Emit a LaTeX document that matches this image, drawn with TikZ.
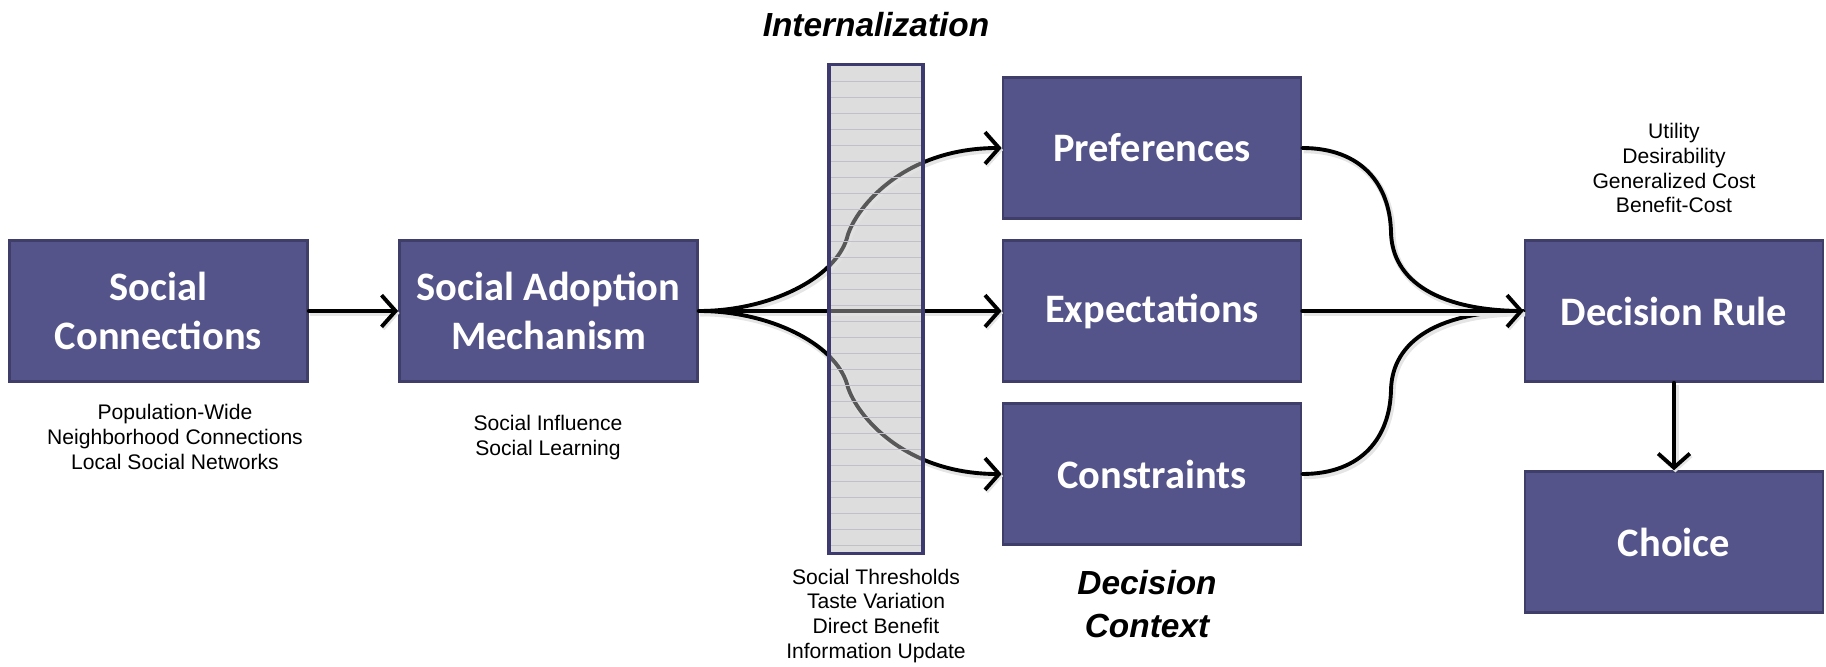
\documentclass[tikz,border=0pt]{standalone}
\usepackage{fontspec}
\setmainfont{Liberation Sans}
\newfontfamily\boxfont{Carlito}
\usetikzlibrary{arrows.meta}
\definecolor{boxfill}{RGB}{84,84,138}
\definecolor{boxedge}{RGB}{62,62,104}
\definecolor{barfill}{RGB}{221,221,221}
\definecolor{baredge}{RGB}{60,58,110}
\definecolor{barline}{RGB}{192,192,198}
\begin{document}
\begin{tikzpicture}[x=0.01cm,y=-0.01cm,
  blk/.style={draw=boxedge, line width=0.7pt, fill=boxfill, text=white,
    font=\boxfont\bfseries\fontsize{11.5}{14}\selectfont, align=center, inner sep=0pt,
    minimum width=2.98cm, minimum height=1.41cm},
  note/.style={font=\fontsize{6}{7.1}\selectfont, align=center, inner sep=0pt},
  head/.style={font=\bfseries\itshape\fontsize{9.5}{12.2}\selectfont, align=center, inner sep=0pt},
  conn/.style={line width=1.1pt, line cap=round,
    preaction={draw=black!10, line width=1.8pt, transform canvas={shift={(0.4pt,-0.6pt)}}}},
  tip/.style={-{Straight Barb[length=4pt,width=9pt,line width=1.1pt]}},
  ]
\useasboundingbox (0,0) rectangle (1826,667);

% boxes
\node[blk] (sc)   at (158.5,311) {Social\\Connections};
\node[blk] (sam)  at (548.5,311) {Social Adoption\\Mechanism};
\node[blk] (pref) at (1152,148) {Preferences};
\node[blk] (exp)  at (1152,311) {Expectations};
\node[blk] (cons) at (1152,474) {Constraints};
\node[blk] (dr)   at (1674,311) {Decision Rule};
\node[blk] (ch)   at (1674,542) {Choice};

% bar base
\fill[barfill] (829,65) rectangle (923,553);

% connectors
\draw[conn,tip] (sc.east) -- (sam.west);
\coordinate (lt) at (847,238);
\coordinate (lb) at (847,384);
\draw[conn,tip] (sam.east) .. controls (770,311) and (835,278) .. (lt)
   .. controls (853,212) and (900,148) .. (pref.west);
\draw[conn,tip] (sam.east) -- (exp.west);
\draw[conn,tip] (sam.east) .. controls (770,311) and (835,344) .. (lb)
   .. controls (853,410) and (900,474) .. (cons.west);

\coordinate (rt) at (1391,232);
\coordinate (rb) at (1391,390);
\draw[conn] (pref.east) .. controls (1362,148) and (1390,185) .. (rt)
   .. controls (1392,282) and (1440,311) .. (dr.west);
\draw[conn] (cons.east) .. controls (1362,474) and (1390,437) .. (rb)
   .. controls (1392,340) and (1440,311) .. (dr.west);
\draw[conn,tip] (exp.east) -- (dr.west);
\draw[conn,tip] (dr.south) -- (ch.north);

% bar overlay
\fill[barfill, fill opacity=0.4] (829,65) rectangle (923,553);
\foreach \yy in {81,97,...,545} \draw[barline, line width=0.25pt] (831,\yy) -- (921,\yy);
\node[draw=baredge, line width=0.9pt, minimum width=0.94cm, minimum height=4.88cm, inner sep=0pt] (bar) at (876,309) {};

% labels
\node[head] (intl) at (876,25) {Internalization};
\node[head] (dctx) at (1147,604) {Decision\\Context};
\node[note] (scn)  at (175,437) {Population-Wide\\Neighborhood Connections\\Local Social Networks};
\node[note] (samn) at (548,438) {Social Influence\\Social Learning};
\node[note] (barn) at (876,616) {Social Thresholds\\Taste Variation\\Direct Benefit\\Information Update};
\node[note] (drn)  at (1674,168) {Utility\\Desirability\\Generalized Cost\\Benefit-Cost};
\end{tikzpicture}
\end{document}
